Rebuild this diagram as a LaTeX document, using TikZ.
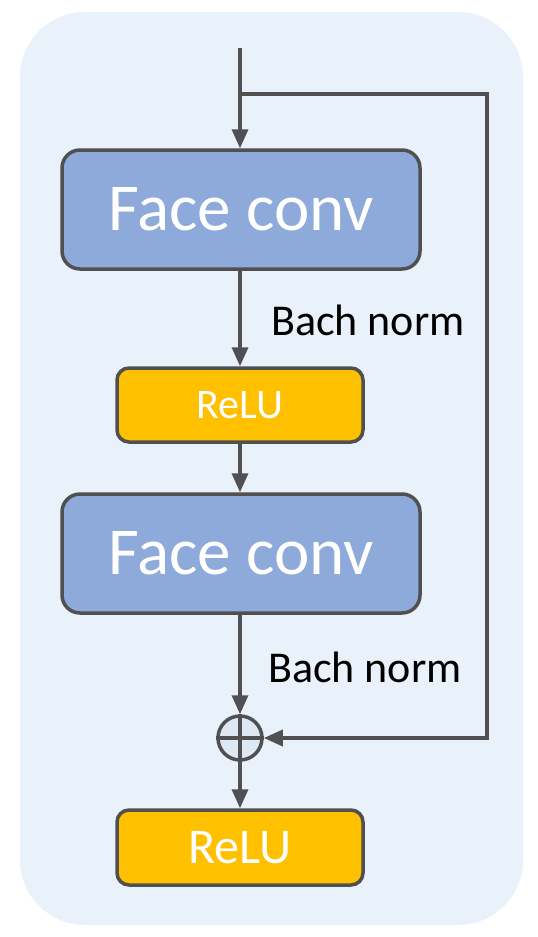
\documentclass[tikz,border=0pt]{standalone}
\usepackage{fontspec}
\setmainfont{Carlito}
\usetikzlibrary{arrows.meta,calc,shapes.geometric,positioning}

\definecolor{bgblue}{HTML}{E9F1FA}
\definecolor{convblue}{HTML}{8EAADB}
\definecolor{reluorange}{HTML}{FFC000}
\definecolor{linegray}{HTML}{505050}
\definecolor{plusfill}{HTML}{DDE8F5}

\begin{document}
\begin{tikzpicture}[x=1pt,y=-1pt]
    \tikzset{conv/.style = {draw=linegray, line width=3.5pt, fill=convblue,
        rounded corners=18pt, minimum width=358pt, minimum height=119pt,
        inner sep=0pt, text=white, font=\fontsize{67}{70}\selectfont},
      relubox/.style = {draw=linegray, line width=3.5pt, fill=reluorange,
        rounded corners=12pt, minimum width=246pt, minimum height=74pt,
        inner sep=0pt, text=white},
      arr/.style = {draw=linegray, line width=3.5pt,
        -{Triangle[length=19pt,width=16pt]}},
      lbl/.style = {anchor=west, inner sep=0pt, font=\fontsize{44}{48}\selectfont}}
    \useasboundingbox (0,0) rectangle (538,937);
    \fill[bgblue, rounded corners=65pt] (20,12) rectangle (523,925);
    % blocks
    \node[conv] (conva) at (241,209.5) {Face conv};
    \node[relubox, font=\fontsize{42}{46}\selectfont] (relua) at (240,405) {ReLU};
    \node[conv] (convb) at (241,553.5) {Face conv};
    \node[circle, draw=linegray, fill=plusfill, line width=3.5pt,
      minimum size=44pt, inner sep=0pt] (plus) at (240,738) {};
    \draw[linegray, line width=3.5pt] (plus.north) -- (plus.south)
      (plus.west) -- (plus.east);
    \node[relubox, minimum height=75pt, font=\fontsize{50}{54}\selectfont]
      (relub) at (240,847.5) {ReLU};
    \node[lbl] (bna) at (271,320) {Bach norm};
    \node[lbl] (bnb) at (268,667) {Bach norm};
    % connectors
    \coordinate (in) at (240,48);
    \coordinate (split) at (240,94);
    \coordinate (skip) at (487,738);
    \draw[arr] (in) -- (in |- conva.north);
    \draw[arr] (split) -| (skip) -- (plus.east);
    \draw[arr] (conva.south -| relua.north) -- (relua.north);
    \draw[arr] (relua.south) -- (relua.south |- convb.north);
    \draw[arr] (convb.south -| plus.north) -- (plus.north);
    \draw[arr] (plus.south) -- (relub.north);
\end{tikzpicture}
\end{document}
